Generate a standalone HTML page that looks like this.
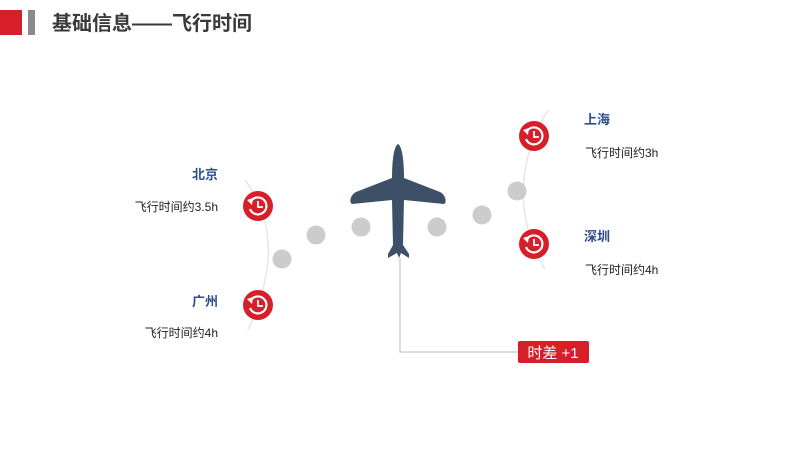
<!DOCTYPE html>
<html><head><meta charset="utf-8"><style>
body{margin:0;background:#fff;}
svg{display:block;font-family:"Liberation Sans","Noto Sans CJK SC",sans-serif;}
</style></head><body>
<svg width="800" height="450" viewBox="0 0 800 450">
<rect x="0" y="10" width="22" height="25" fill="#d71f2a"/>
<rect x="28" y="10" width="7" height="25" fill="#8a8a8a"/>
<text x="52" y="30" font-size="20" font-weight="bold" fill="#3a3a3a">基础信息——飞行时间</text>

<path d="M245,180 Q290,240 248,330" fill="none" stroke="#e6e6e6" stroke-width="1.5"/>
<path d="M548,110 Q500,190 545,270" fill="none" stroke="#e6e6e6" stroke-width="1.5"/>

<g fill="#cccccc">
<circle cx="282" cy="259" r="9.5"/><circle cx="316" cy="235" r="9.5"/>
<circle cx="361" cy="227" r="9.5"/><circle cx="437" cy="227" r="9.5"/>
<circle cx="482" cy="215" r="9.5"/><circle cx="517" cy="191" r="9.5"/>
</g>

<polyline points="400,258 400,352 518,352" fill="none" stroke="#bbb" stroke-width="1"/>
<rect x="518" y="341" width="71" height="22" rx="2" fill="#d71f2a"/>
<text x="553" y="358" font-size="15" fill="#fff" text-anchor="middle">时差 +1</text>

<path d="M398,144 C402,146 404,160 404,178 L440,192 C446,195 447,203 444,204 L404,200 L403,245 L409,254 L409,258 L401,253 L399,258 L397,253 L388,258 L388,254 L393,245 L392,200 L352,204 C349,203 350,195 356,192 L392,178 C392,160 394,146 398,144 Z" fill="#3d5068"/>

<defs>
<g id="ic">
<circle r="15" fill="#d71f2a"/>
<path d="M-7,-5 A8.5,8.5 0 1 1 -8,3" fill="none" stroke="#fff" stroke-width="2.2"/>
<path d="M-11,-6 L-5,-8 L-6,-1 Z" fill="#fff"/>
<path d="M0,-5 L0,1 L5,1" fill="none" stroke="#fff" stroke-width="1.8"/>
</g>
</defs>
<use href="#ic" x="258" y="206"/>
<use href="#ic" x="258" y="305"/>
<use href="#ic" x="534" y="136"/>
<use href="#ic" x="534" y="244"/>

<g font-size="13" font-weight="bold" fill="#2e4e8f">
<text x="218" y="179" text-anchor="end">北京</text>
<text x="218" y="306" text-anchor="end">广州</text>
<text x="584" y="124">上海</text>
<text x="584" y="241">深圳</text>
</g>
<g font-size="12" fill="#222">
<text x="218" y="211" text-anchor="end">飞行时间约3.5h</text>
<text x="218" y="337" text-anchor="end">飞行时间约4h</text>
<text x="585" y="157">飞行时间约3h</text>
<text x="585" y="274">飞行时间约4h</text>
</g>
</svg>
</body></html>
